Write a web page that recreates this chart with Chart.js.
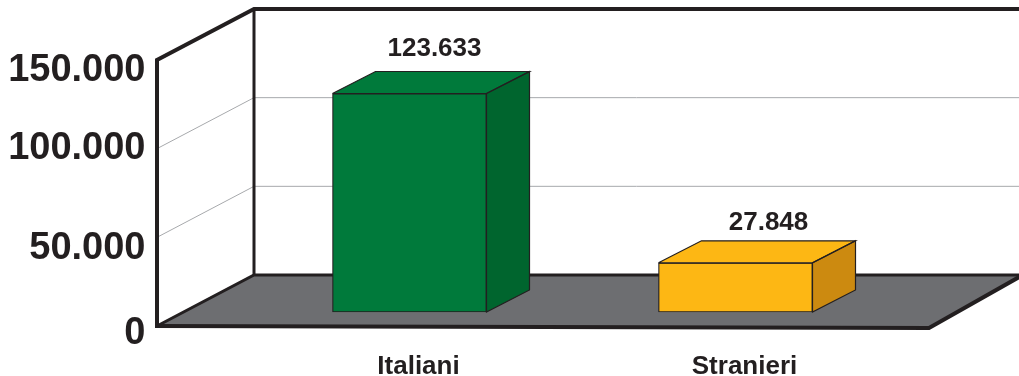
<!DOCTYPE html>
<html>
<head>
<meta charset="utf-8">
<style>html,body{margin:0;padding:0;background:#fff}canvas{display:block}</style>
<script src="https://cdn.jsdelivr.net/npm/chart.js@4"></script>
</head>
<body>
<canvas id="c" width="1019" height="376"></canvas>
<script>
const categories = ['Italiani', 'Stranieri'];
const values = [123633, 27848];
const valueLabels = ['123.633', '27.848'];
const frontColors = ['#007a3b', '#fdb714'];
const sideColors = ['#00652e', '#cc8a10'];
const axisTicks = [0, 50000, 100000, 150000];
const tickLabels = {0: '0', 50000: '50.000', 100000: '100.000', 150000: '150.000'};

const FONT = '"Liberation Sans", Arial, sans-serif';
const WALL = {dx: 97, dy: -51};
const BAR = {dx: 43, dy: -22};
const INK = '#231f20';
const LABEL_SHIFT = [[25, -45], [33, -40]];
const TICK_NUDGE = [8, 11, 0, 11];

function line(ctx, pts, w, color) {
  ctx.beginPath();
  pts.forEach((p, i) => i ? ctx.lineTo(p[0], p[1]) : ctx.moveTo(p[0], p[1]));
  ctx.lineWidth = w;
  ctx.strokeStyle = color;
  ctx.lineJoin = 'miter';
  ctx.stroke();
}
function poly(ctx, pts, fill) {
  ctx.beginPath();
  pts.forEach((p, i) => i ? ctx.lineTo(p[0], p[1]) : ctx.moveTo(p[0], p[1]));
  ctx.closePath();
  ctx.fillStyle = fill;
  ctx.fill();
}

const room = {
  id: 'room',
  afterUpdate(chart) {
    const s = chart.scales.yFront;
    s.getLabelItems().forEach((item, i) => { item.options.translation[1] += TICK_NUDGE[i]; });
  },
  beforeDraw(chart) {
    const ctx = chart.ctx, s = chart.scales.yFront;
    const x0 = 157, bx = x0 + WALL.dx;
    const y0 = s.getPixelForValue(0), yT = s.getPixelForValue(150000);
    const by0 = y0 + WALL.dy, byT = yT + WALL.dy;
    ctx.save();
    // floor
    poly(ctx, [[x0, y0], [bx, by0], [1019, by0], [1019, 277], [929, 328]], '#6d6e71');
    // gridlines
    axisTicks.filter(v => v > 0 && v < 150000).forEach(v => {
      const y = s.getPixelForValue(v);
      line(ctx, [[x0, y], [bx, y + WALL.dy], [1019, y + WALL.dy]], 1, '#a7a9ac');
    });
    // walls
    line(ctx, [[bx, by0], [bx, byT]], 3, INK);
    line(ctx, [[1019, by0], [bx, by0], [x0, y0]], 3, INK);
    line(ctx, [[x0, y0], [x0, yT], [bx, byT], [1019, byT]], 4, INK);
    line(ctx, [[x0 - 2, y0], [929, 328], [1021, 276]], 4, INK);
    ctx.restore();
  },
  afterDatasetsDraw(chart) {
    const ctx = chart.ctx;
    const meta = chart.getDatasetMeta(0);
    ctx.save();
    meta.data.forEach((b, i) => {
      const l = b.x - b.width / 2, r = b.x + b.width / 2, t = b.y, bt = b.base;
      const top = [[l, t], [l + BAR.dx, t + BAR.dy], [r + BAR.dx, t + BAR.dy], [r, t]];
      const side = [[r, t], [r + BAR.dx, t + BAR.dy], [r + BAR.dx, bt + BAR.dy], [r, bt]];
      poly(ctx, top, frontColors[i]);
      poly(ctx, side, sideColors[i]);
      [top, side].forEach(f => line(ctx, f.concat([f[0]]), 1.2, INK));
      ctx.fillStyle = INK;
      ctx.font = 'bold 26px ' + FONT;
      ctx.textAlign = 'center';
      ctx.textBaseline = 'middle';
      ctx.fillText(valueLabels[i], b.x + LABEL_SHIFT[i][0], t + LABEL_SHIFT[i][1]);
    });
    ctx.restore();
  }
};

function noPad(s) { s.paddingTop = s.paddingBottom = s.paddingLeft = s.paddingRight = 0; }

new Chart(document.getElementById('c'), {
  type: 'bar',
  data: {
    labels: categories,
    datasets: [{
      data: values,
      backgroundColor: frontColors,
      borderColor: INK,
      borderWidth: 1.2,
      borderSkipped: false,
      barThickness: 154,
      yAxisID: 'y'
    }]
  },
  plugins: [room],
  options: {
    responsive: false,
    animation: false,
    layout: {padding: {top: 60, right: 120.5, left: 0, bottom: 0}},
    plugins: {legend: {display: false}, tooltip: {enabled: false}, title: {display: false}},
    scales: {
      x: {
        grid: {display: false, drawTicks: false},
        border: {display: false},
        afterFit(s) { s.height = 50; noPad(s); },
        ticks: {
          autoSkip: false, maxRotation: 0, padding: 25, labelOffset: 9,
          color: INK, font: {family: FONT, weight: 'bold', size: 26}
        }
      },
      y: {display: false, min: -7925, max: 142600},
      yFront: {
        position: 'left',
        min: 0, max: 150000,
        grid: {display: false, drawTicks: false},
        border: {display: false},
        afterFit(s) { s.width = 246.5; noPad(s); },
        afterBuildTicks(s) { s.ticks = axisTicks.map(v => ({value: v})); },
        ticks: {
          padding: 101, labelOffset: 0,
          color: INK, font: {family: FONT, weight: 'bold', size: 38},
          callback: v => tickLabels[v]
        }
      }
    }
  }
});
</script>
</body>
</html>
